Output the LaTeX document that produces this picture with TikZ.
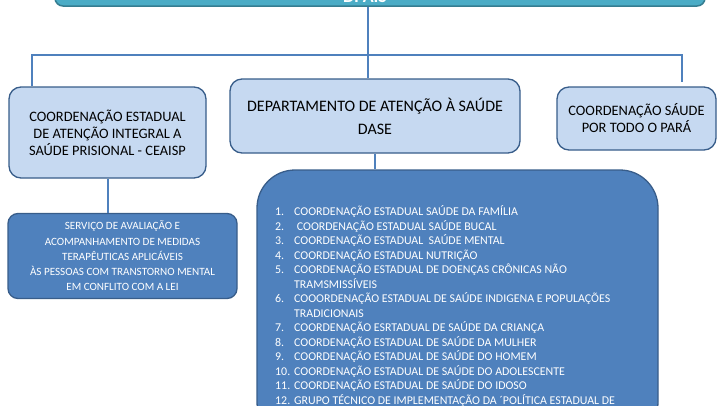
\documentclass[tikz,border=0pt]{standalone}
\usepackage{fontspec}
\setmainfont{Carlito}
\usetikzlibrary{positioning}
\definecolor{tealbox}{HTML}{4BACC6}
\definecolor{tealline}{HTML}{357D91}
\definecolor{darkbox}{HTML}{4F81BD}
\definecolor{boxline}{HTML}{385D8A}
\definecolor{lightbox}{HTML}{C6D9F1}
\newcommand\listno[1]{\makebox[19pt][l]{#1}}
\tikzset{
  lightnode/.style={draw=boxline, line width=1.3pt, fill=lightbox, rounded corners=12pt, align=center},
  darknode/.style={draw=boxline, line width=1.3pt, fill=darkbox, rounded corners=10pt, text=white},
  link/.style={draw=darkbox, line width=2pt},
}

\begin{document}
\begin{tikzpicture}[x=1pt,y=-1pt]
  \useasboundingbox (0,0) rectangle (720,405);
  \clip (0,0) rectangle (720,405);

  % top box, cut by the page edge
  \node[draw=tealline, line width=1.5pt, fill=tealbox, rounded corners=8pt,
        minimum width=650pt, minimum height=60pt] (dpais) at (380,-24) {};
  \node[anchor=base, text=white, font=\bfseries\fontsize{18}{22}\selectfont] (dpaislbl) at (365,2) {DPAIS};

  % second level
  \node[lightnode, minimum width=197pt, minimum height=91pt, font=\fontsize{14.4}{17}\selectfont]
    (ceaisp) at (107.5,132.5) {COORDENAÇÃO ESTADUAL\\DE ATENÇÃO INTEGRAL A\\SAÚDE PRISIONAL - CEAISP};
  \node[lightnode, minimum width=290pt, minimum height=74pt, font=\fontsize{16}{23}\selectfont]
    (dase) at (375,116) {DEPARTAMENTO DE ATENÇÃO À SAÚDE\\DASE};
  \node[lightnode, minimum width=159pt, minimum height=63pt, font=\fontsize{14.4}{17}\selectfont]
    (para) at (636.5,118.5) {COORDENAÇÃO SÁUDE\\POR TODO O PARÁ};

  % third level
  \node[darknode, minimum width=229pt, minimum height=85pt, align=center, font=\fontsize{11.1}{15.3}\selectfont]
    (servico) at (122.5,256) {SERVIÇO DE AVALIAÇÃO E\\ACOMPANHAMENTO DE MEDIDAS\\TERAPÊUTICAS APLICÁVEIS\\ÀS PESSOAS COM TRANSTORNO MENTAL\\EM CONFLITO COM A LEI};
  \node[darknode, rounded corners=38pt, minimum width=401pt, minimum height=270pt] (lista) at (457.5,305) {};
  \node[anchor=north west, inner sep=0pt, text=white, align=left, font=\fontsize{11.9}{14.5}\selectfont]
    (listatxt) at (275,205.5) {%
    \listno{1.}COORDENAÇÃO ESTADUAL SAÚDE DA FAMÍLIA\\
    \listno{2.}\ COORDENAÇÃO ESTADUAL SAÚDE BUCAL\\
    \listno{3.}COORDENAÇÃO ESTADUAL\ \ SAÚDE MENTAL\\
    \listno{4.}COORDENAÇÃO ESTADUAL NUTRIÇÃO\\
    \listno{5.}COORDENAÇÃO ESTADUAL DE DOENÇAS CRÔNICAS NÃO\\
    \listno{}TRAMSMISSÍVEIS\\
    \listno{6.}COOORDENAÇÃO ESTADUAL DE SAÚDE INDIGENA E POPULAÇÕES\\
    \listno{}TRADICIONAIS\\
    \listno{7.}COORDENAÇÃO ESRTADUAL DE SAÚDE DA CRIANÇA\\
    \listno{8.}COORDENAÇÃO ESTADUAL DE SAÚDE DA MULHER\\
    \listno{9.}COORDENAÇÃO ESTADUAL DE SAÚDE DO HOMEM\\
    \listno{10.}COORDENAÇÃO ESTADUAL DE SAÚDE DO ADOLESCENTE\\
    \listno{11.}COORDENAÇÃO ESTADUAL DE SAÚDE DO IDOSO\\
    \listno{12.}GRUPO TÉCNICO DE IMPLEMENTAÇÃO DA ´POLÍTICA ESTADUAL DE};

  % connectors
  \coordinate (busl) at (32,55);
  \coordinate (busr) at (682,55);
  \coordinate (trunk) at (368,55);
  \coordinate (paratap) at (682,82);
  \draw[link] (dpais.south -| trunk) -- (dase.north -| trunk);
  \draw[link] (ceaisp.north -| busl) -- (busl) -- (busr) -- (paratap);
  \draw[link] (dase.south) -- (lista.north -| dase.south);
  \draw[link] (ceaisp.south) -- (servico.north -| ceaisp.south);
\end{tikzpicture}
\end{document}
